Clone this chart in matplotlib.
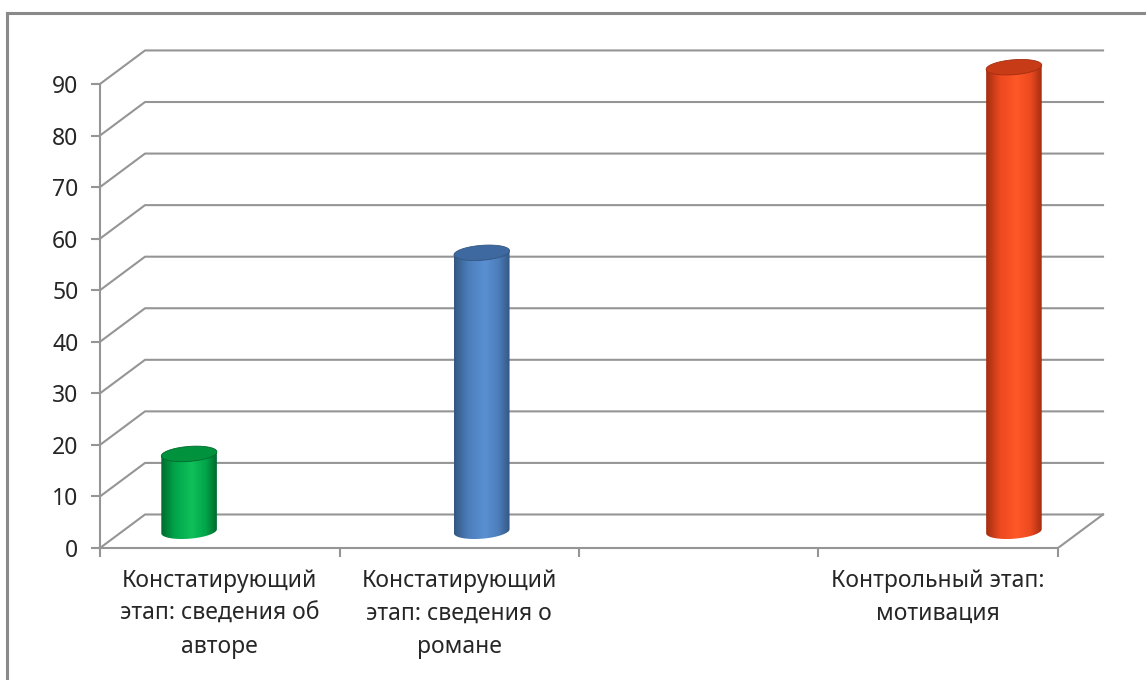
import matplotlib.pyplot as plt
import numpy as np
from matplotlib.colors import LinearSegmentedColormap
from matplotlib.patches import Polygon
from matplotlib.lines import Line2D

plt.rcParams['font.family'] = ['Noto Sans', 'DejaVu Sans']

# data
categories = ['Констатирующий\nэтап: сведения об\nавторе',
              'Констатирующий\nэтап: сведения о\nромане',
              '',
              'Контрольный этап:\nмотивация']
yticks = [0, 10, 20, 30, 40, 50, 60, 70, 80, 90]
series_1 = [15, np.nan, np.nan, np.nan]
series_2 = [np.nan, 54, np.nan, np.nan]
series_3 = [np.nan, np.nan, np.nan, 90]

# dark edge, mid, highlight
series_cols = [('#006a2d', '#00a64a', '#10bf5a'),
               ('#345782', '#4b7dba', '#5a90d2'),
               ('#a32e0f', '#ec4920', '#ff5727')]
top_cols = ['#00923d', '#3d68a0', '#c73b17']

depth_x = 0.188   # oblique depth in category units
depth_y = 6.5     # oblique depth in value units
bar_w = 0.232
step = 0.222
ell_h = 2.9
tilt = 0.8
grid_c = '#959595'
txt_c = '#262626'

fig = plt.figure(figsize=(11.46, 6.8), dpi=100)
ax = fig.add_axes([100/1146, 132/680, 4.3*239.5/1146, 97*5.156/680])

# back wall + left wall gridlines
for v in yticks:
    ax.plot([0, depth_x, 4 + depth_x], [v, v + depth_y, v + depth_y],
            color=grid_c, lw=1.5, zorder=1)
ax.plot([4, 4 + depth_x], [0, depth_y], color=grid_c, lw=1.5, zorder=1)


def cylinder(xc, val, cols, top_col):
    base = depth_y / 2
    top = base + val
    a = bar_w / 2
    b = ell_h / 2
    t = np.linspace(np.pi, 2 * np.pi, 80)
    bx = xc + a * np.cos(t)
    by = base + b * np.sin(t) + tilt / 2 * np.cos(t)
    verts = [(xc - a, top - tilt / 2)] + list(zip(bx, by)) + [(xc + a, top + tilt / 2)]
    body = Polygon(verts, closed=True, facecolor='none', edgecolor='none')
    ax.add_patch(body)
    cmap = LinearSegmentedColormap.from_list(
        'cyl', [(0, cols[0]), (0.25, cols[1]), (0.55, cols[2]), (0.8, cols[1]), (1, cols[0])])
    grad = np.linspace(0, 1, 256).reshape(1, -1)
    im = ax.imshow(grad, extent=[xc - a, xc + a, base - ell_h, top + ell_h],
                   aspect='auto', cmap=cmap, zorder=2, interpolation='bilinear')
    im.set_clip_path(body)
    tt = np.linspace(0, 2 * np.pi, 120)
    tx = xc + a * np.cos(tt)
    ty = top + b * np.sin(tt) + tilt / 2 * np.cos(tt)
    ax.add_patch(Polygon(list(zip(tx, ty)), closed=True, facecolor=top_col,
                         edgecolor=cols[0], lw=0.6, zorder=3))


for j, (vals, cols, tc) in enumerate(zip([series_1, series_2, series_3], series_cols, top_cols)):
    for i, v in enumerate(vals):
        if np.isnan(v):
            continue
        xc = i + 0.5 + (j - 1) * step + depth_x / 2
        cylinder(xc, v, cols, tc)

ax.set_xlim(0, 4.3)
ax.set_ylim(0, 97)

ax.set_yticks(yticks)
ax.tick_params(axis='y', length=6.5, width=1.5, color=grid_c, pad=9,
               labelsize=16.5, labelcolor=txt_c)
ax.set_xticks(range(5))
ax.set_xticklabels([])
ax.set_xticks(np.arange(4) + 0.5, minor=True)
ax.set_xticklabels(categories, minor=True, fontsize=16.5, color=txt_c, linespacing=1.5)
ax.tick_params(axis='x', which='major', length=6.5, width=1.5, color=grid_c)
ax.tick_params(axis='x', which='minor', length=0, pad=15)

for s in ['top', 'right']:
    ax.spines[s].set_visible(False)
ax.spines['left'].set_bounds(0, 90)
ax.spines['bottom'].set_bounds(0, 4)
for s in ['left', 'bottom']:
    ax.spines[s].set_color(grid_c)
    ax.spines[s].set_linewidth(1.5)
ax.patch.set_alpha(0)

# outer chart frame
fig.add_artist(Line2D([6.5/1146, 6.5/1146], [0, 1 - 13/680], color='#8a8a8a', lw=2.2))
fig.add_artist(Line2D([6.5/1146, 1], [1 - 13/680, 1 - 13/680], color='#8a8a8a', lw=2.2))

fig.savefig('out.png', dpi=100)
